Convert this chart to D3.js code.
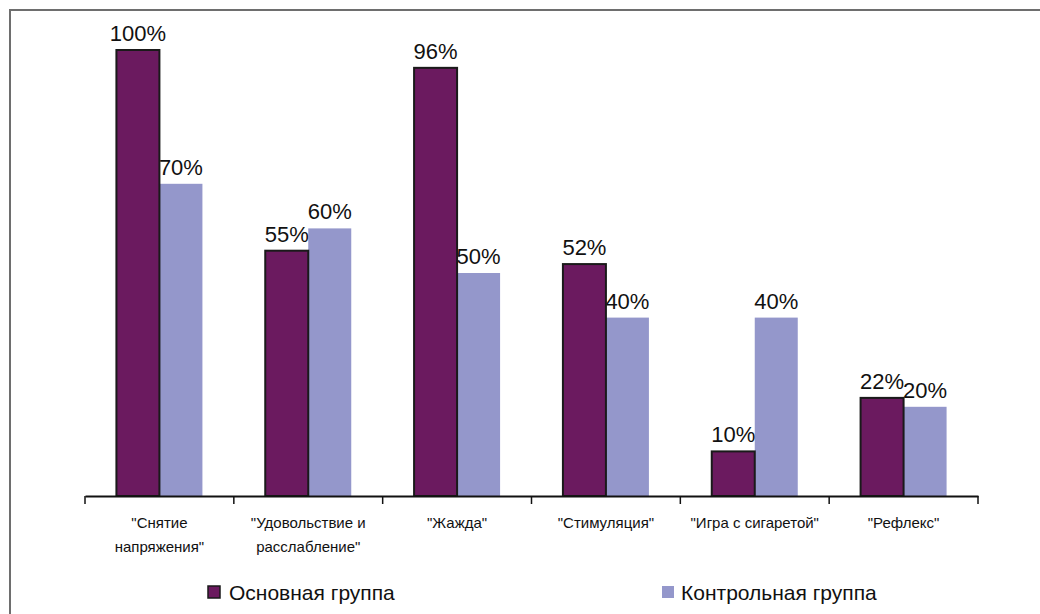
<!DOCTYPE html>
<html lang="ru">
<head>
<meta charset="UTF-8">
<title>Chart</title>
<style>
  body { margin: 0; background: #fff; font-family: 'Liberation Sans', Arial, sans-serif; }
  svg { display: block; }
</style>
</head>
<body>
<div id="chart"></div>
<script src="https://cdnjs.cloudflare.com/ajax/libs/d3/7.8.5/d3.min.js"></script>
<script>
  // категории (каждая — строки подписи)
  const categories = [
    ['"Снятие', 'напряжения"'],
    ['"Удовольствие и', 'расслабление"'],
    ['"Жажда"'],
    ['"Стимуляция"'],
    ['"Игра с сигаретой"'],
    ['"Рефлекс"']
  ];
  const seriesNames = ['Основная группа', 'Контрольная группа'];
  const mainGroup = [100, 55, 96, 52, 10, 22];
  const controlGroup = [70, 60, 50, 40, 40, 20];
  const colors = ['#6b1a5f', '#9497cb'];

  const W = 1040, H = 614;
  const plot = { left: 85, right: 978, top: 50, bottom: 496 };

  const svg = d3.select('#chart').append('svg')
    .attr('width', W).attr('height', H);

  svg.append('rect').attr('width', W).attr('height', H).attr('fill', '#fff');

  // рамка (видны только верх и левый край)
  svg.append('path')
    .attr('d', 'M10,' + H + 'V10H' + W)
    .attr('fill', 'none').attr('stroke', '#6e6e6e').attr('stroke-width', 2);

  const keys = categories.map((c, i) => i);
  const x = d3.scaleBand().domain(keys).range([plot.left, plot.right]);
  const x1 = d3.scaleBand().domain([0, 1]).range([0, 86]);
  const y = d3.scaleLinear().domain([0, 100]).range([plot.bottom, plot.top]);

  const data = keys.map(i => [mainGroup[i], controlGroup[i]]);

  const groups = svg.selectAll('.grp').data(data).enter().append('g')
    .attr('transform', (d, i) => 'translate(' + (x(i) + (x.bandwidth() - 86) / 2) + ',0)');

  // контрольная группа сначала, чтобы контур основной лежал сверху
  [1, 0].forEach(s => {
    groups.append('rect')
      .attr('x', x1(s))
      .attr('y', d => y(d[s]))
      .attr('width', x1.bandwidth())
      .attr('height', d => y(0) - y(d[s]))
      .attr('fill', colors[s])
      .attr('stroke', s === 0 ? '#1a1a1a' : 'none')
      .attr('stroke-width', 2);
    groups.append('text')
      .attr('x', x1(s) + x1.bandwidth() / 2)
      .attr('y', d => y(d[s]) - 9)
      .attr('text-anchor', 'middle')
      .attr('font-size', 22)
      .attr('fill', '#111')
      .text(d => d[s] + '%');
  });

  // ось X
  const axis = svg.append('g')
    .attr('transform', 'translate(0,' + plot.bottom + ')')
    .call(d3.axisBottom(x).tickSize(0).tickFormat(''));
  axis.select('.domain').attr('stroke', '#111').attr('stroke-width', 2);
  axis.selectAll('.tick').remove();
  const edges = keys.map(i => x(i)).concat([plot.right]);
  axis.selectAll('.edge').data(edges).enter().append('line')
    .attr('x1', d => d).attr('x2', d => d)
    .attr('y1', 0).attr('y2', 8)
    .attr('stroke', '#111').attr('stroke-width', 1.5);

  // подписи категорий
  svg.selectAll('.cat').data(categories).enter().append('text')
    .attr('text-anchor', 'middle')
    .attr('font-size', 15)
    .attr('fill', '#111')
    .each(function (lines, i) {
      d3.select(this).selectAll('tspan').data(lines).enter().append('tspan')
        .attr('x', x(i) + x.bandwidth() / 2)
        .attr('y', (d, j) => 528 + j * 24)
        .text(d => d);
    });

  // легенда
  const legendX = [208, 662];
  seriesNames.forEach((name, s) => {
    const g = svg.append('g').attr('transform', 'translate(' + legendX[s] + ',586)');
    g.append('rect')
      .attr('x', 0).attr('y', 0).attr('width', 12).attr('height', 12)
      .attr('fill', colors[s])
      .attr('stroke', s === 0 ? '#1a1a1a' : 'none')
      .attr('stroke-width', 1.5);
    g.append('text')
      .attr('x', s === 0 ? 21 : 19).attr('y', 14)
      .attr('font-size', 21)
      .attr('fill', '#111')
      .text(name);
  });
</script>
</body>
</html>
